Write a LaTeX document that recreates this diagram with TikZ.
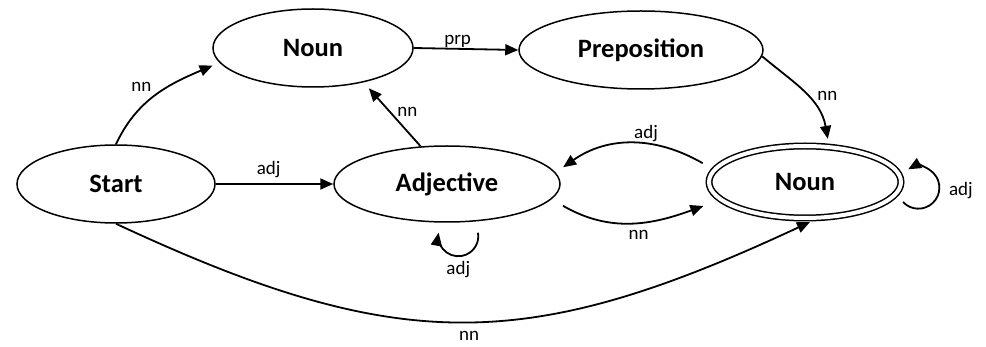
\documentclass[tikz,border=0pt]{standalone}
\usepackage{fontspec}
\setmainfont{Carlito}
\usetikzlibrary{shapes.geometric,arrows.meta}
\begin{document}
\begin{tikzpicture}[x=1pt,y=-1pt,
  state/.style={ellipse, draw, line width=1.5pt, inner sep=0pt, font=\bfseries\fontsize{26.5}{30}\selectfont},
  edge/.style={line width=1.8pt, -{Triangle[length=13pt,width=11pt]}},
  lab/.style={font=\fontsize{19}{21}\selectfont, inner sep=1pt},
]
\useasboundingbox (0,0) rectangle (986,347);
\fill[white] (0,0) rectangle (986,347);

\node[state, minimum width=200pt, minimum height=78pt] (Noun) at (313,48) {Noun};
\node[state, minimum width=244pt, minimum height=78pt] (Preposition) at (641,50) {Preposition};
\node[state, minimum width=198pt, minimum height=78pt] (Start) at (116,184) {Start};
\node[state, minimum width=226pt, minimum height=76pt] (Adjective) at (447,184) {Adjective};
\node[state, double, double distance=4pt, minimum width=192pt, minimum height=72pt, outer sep=4pt] (NounF) at (805,182) {Noun};

% Start -> Noun
\draw[edge] (Start.north) to[out=65,in=203] node[lab, pos=0.5, anchor=south east, inner sep=3pt] {nn} ([xshift=-10pt]Noun.191);
% Adjective -> Noun
\draw[edge] (Adjective.125) -- node[lab, pos=0.6, right=6pt] {nn} ([shift={(5pt,-6pt)}]Noun.326);
% Noun -> Preposition
\draw[edge] (Noun.east) -- node[lab, pos=0.42, above=0pt, inner sep=0.5pt] {prp} (Preposition.west);
% Preposition -> NounF
\draw[edge] (Preposition.-3) to[out=-40,in=100] node[lab, pos=0.55, right=8pt] {nn} ([shift={(2pt,4pt)}]NounF.62);
% Start -> Adjective
\draw[edge] (Start.east) -- node[lab, pos=0.45, above=4pt] {adj} (Adjective.west);
% NounF -> Adjective
\draw[edge] ([xshift=-14pt]NounF.168) to[out=150,in=35] node[lab, pos=0.4, above=0pt] {adj} ([shift={(11pt,2pt)}]Adjective.8);
% Adjective -> NounF
\draw[edge] ([shift={(15pt,-4pt)}]Adjective.-10) to[out=-30,in=200] node[lab, pos=0.55, below=6pt] {nn} ([shift={(-15pt,-4pt)}]NounF.193);
% Adjective loop
\draw[edge] ([shift={(31pt,-10pt)}]Adjective.south) arc[start angle=10, end angle=-190, radius=20pt] node[lab, pos=0.5, below=3pt] {adj};
% NounF loop
\draw[edge] ([shift={(-2pt,-20pt)}]NounF.east) arc[start angle=-137, end angle=119, radius=21pt] node[lab, pos=0.5, right=8pt] {adj};
% Start -> NounF long
\draw[edge] (Start.south) to[out=-25,in=205,looseness=1.15] node[lab, pos=0.51, below=8pt] {nn} ([xshift=5pt]NounF.south);
\end{tikzpicture}
\end{document}
